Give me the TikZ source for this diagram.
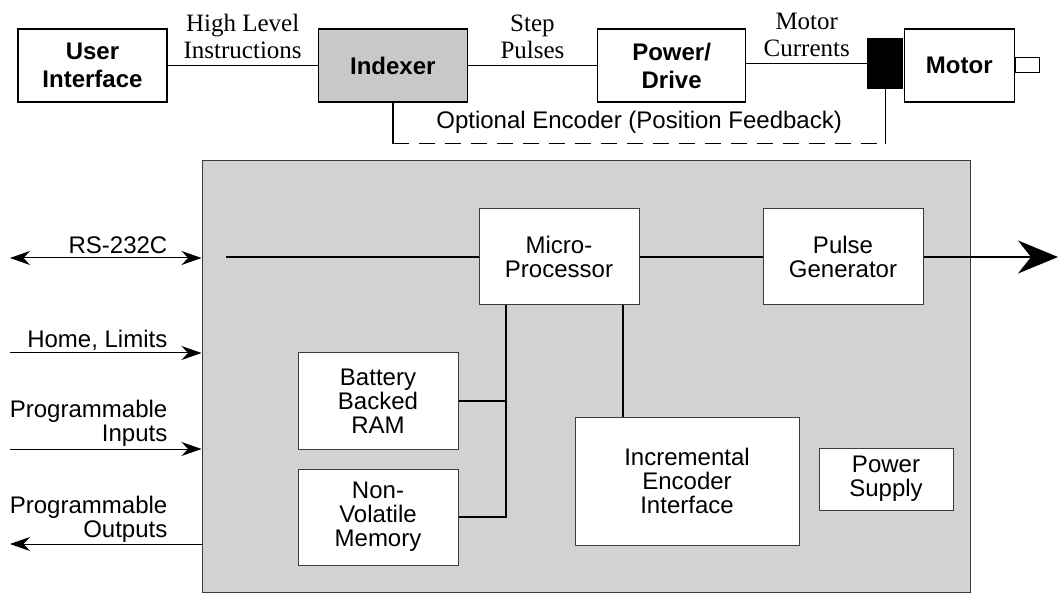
\documentclass[tikz,border=0pt]{standalone}
\usepackage{fontspec}
\setmainfont{Liberation Serif}
\setsansfont{Liberation Sans}
\usetikzlibrary{arrows.meta,positioning,calc}
\definecolor{boardgray}{RGB}{209,210,212}
\definecolor{idxgray}{RGB}{200,200,200}
\definecolor{edgegray}{RGB}{60,60,60}

\begin{document}
\begin{tikzpicture}[
    x=1pt, y=-1pt,
    unit/.style={rectangle, draw, line width=1.3pt, fill=white, align=center, minimum width=149pt, minimum height=73pt, inner sep=0pt, font=\sffamily\bfseries\fontsize{24}{28}\selectfont},
    encblk/.style={rectangle, fill=black, minimum width=36pt, minimum height=51pt, inner sep=0pt},
    shaftbox/.style={rectangle, draw, line width=1pt, fill=white, minimum width=24pt, minimum height=15pt, inner sep=0pt},
    board/.style={rectangle, draw=edgegray, line width=1pt, fill=boardgray, minimum width=768pt, minimum height=431pt},
    blk/.style={rectangle, draw=edgegray, line width=1pt, fill=white, align=center, minimum width=160pt, minimum height=96pt, inner sep=0pt, font=\sffamily\fontsize{24}{24}\selectfont},
    lbl/.style={align=center, inner sep=1pt, font=\rmfamily\fontsize{25}{27}\selectfont},
    sigtxt/.style={align=right, inner sep=1pt, font=\sffamily\fontsize{24}{24}\selectfont},
    wire/.style={line width=1.6pt},
    bus/.style={line width=1.6pt},
    sig/.style={line width=1pt}
]
\useasboundingbox (0,0) rectangle (1060,593);

% Top chain
\node[unit] (userif) at (92.5,65.5) {User\\Interface};
\node[unit, fill=idxgray, right=150pt of userif] (indexer) {Indexer};
\node[unit, minimum width=148pt, right=129pt of indexer] (power) {Power/\\Drive};
\node[encblk, right=121pt of power, yshift=2pt] (enc) {};
\node[unit, minimum width=110pt, right=0pt of enc, yshift=-2pt] (motor) {Motor};
\node[shaftbox, right=0pt of motor] (shaft) {};

\draw[wire] (userif) -- node[lbl, above=5pt] {High Level\\Instructions} (indexer);
\draw[wire] (indexer) -- node[lbl, above=5pt] {Step\\Pulses} (power);
\draw[wire] (enc.west -| power.east) -- node[lbl, above=5pt] {Motor\\Currents} (enc.west);

% Feedback
\coordinate (fbL) at ($(indexer.south)+(0,41)$);
\coordinate (fbR) at (fbL -| enc.south);
\draw[wire] (indexer.south) -- (fbL);
\draw[wire] (enc.south) -- (fbR);
\draw[wire, dash pattern=on 16pt off 10pt] (fbL) -- node[sigtxt, above=8pt] {Optional Encoder (Position Feedback)} (fbR);

% Indexer board
\node[board] (ctrl) at (586,376.5) {};
\node[blk] (micro) at (559,257) {Micro-\\Processor};
\node[blk, right=123pt of micro] (pulse) {Pulse\\Generator};
\node[blk] (ram) at (378,401) {Battery\\Backed\\RAM};
\node[blk, below=19pt of ram] (nvm) {Non-\\Volatile\\Memory};
\node[blk, minimum width=224pt, minimum height=128pt] (incenc) at (687,481) {Incremental\\Encoder\\Interface};
\node[blk, minimum width=134pt, minimum height=62pt] (psu) at (886,479) {Power\\Supply};

% Bus
\coordinate (busin) at (226,257);
\coordinate (outtip) at (1058,257);
\draw[bus] (busin) -- (micro);
\draw[bus] (micro) -- (pulse);
\draw[bus, -{Stealth[length=40pt, width=33pt]}] (pulse) -- (outtip);
\coordinate (tapA) at ($(micro.south)+(-53,0)$);
\draw[bus] (tapA) |- (nvm.east);
\draw[bus] (ram.east) -- (ram.east -| tapA);
\coordinate (tapB) at ($(micro.south)+(64,0)$);
\draw[bus] (tapB) -- (tapB |- incenc.north);

% Signals
\coordinate (rsL) at (10,258);
\coordinate (homeL) at (10,353);
\coordinate (inL) at (10,449);
\coordinate (outL) at (10,544);
\draw[sig, {Stealth[length=20pt, width=14pt]}-{Stealth[length=20pt, width=14pt]}] (rsL) -- (rsL -| ctrl.west);
\draw[sig, -{Stealth[length=20pt, width=14pt]}] (homeL) -- (homeL -| ctrl.west);
\draw[sig, -{Stealth[length=20pt, width=14pt]}] (inL) -- (inL -| ctrl.west);
\draw[sig, -{Stealth[length=20pt, width=14pt]}] (outL -| ctrl.west) -- (outL);

\node[sigtxt, anchor=south east] at ($(rsL -| ctrl.west)+(-33,-3)$) {RS-232C};
\node[sigtxt, anchor=south east] at ($(homeL -| ctrl.west)+(-33,-1)$) {Home, Limits};
\node[sigtxt, anchor=south east] at ($(inL -| ctrl.west)+(-33,-1)$) {Programmable\\Inputs};
\node[sigtxt, anchor=south east] at ($(outL -| ctrl.west)+(-33,0)$) {Programmable\\Outputs};

\end{tikzpicture}
\end{document}
